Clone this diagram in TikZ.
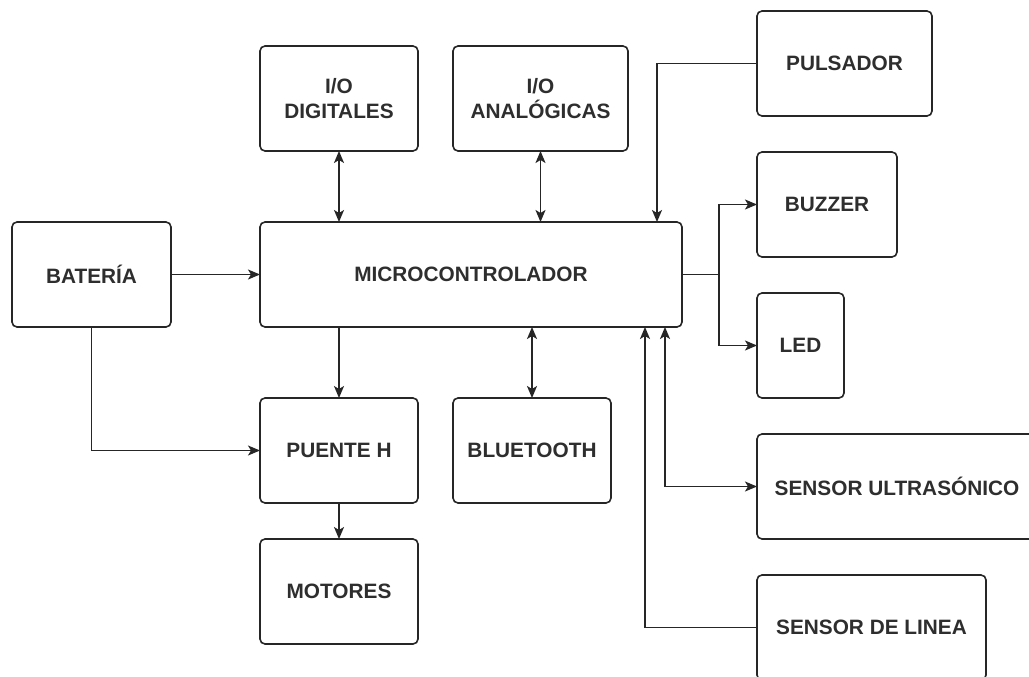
\documentclass[tikz,border=0pt]{standalone}
\usepackage{fontspec}
\setmainfont{Liberation Sans}
\usetikzlibrary{arrows.meta,positioning,calc}
\tikzset{
  blk/.style={draw=black!85, line width=1.6pt, rounded corners=5pt, inner sep=0pt, outer sep=0pt,
    align=center, font=\fontsize{20.8}{24.5}\selectfont\bfseries, text=black!82},
  arr/.style={draw=black!85, line width=1.6pt, -{Stealth[length=12pt,width=10pt,inset=3pt]}},
  barr/.style={draw=black!85, line width=1.6pt, {Stealth[length=12pt,width=10pt,inset=3pt]}-{Stealth[length=12pt,width=10pt,inset=3pt]}},
  ln/.style={draw=black!85, line width=1.6pt}
}
\begin{document}
\begin{tikzpicture}[x=1pt,y=-1pt]
\useasboundingbox (0,0) rectangle (1029,677);
\clip (0,0) rectangle (1029,677);
\fill[white] (0,0) rectangle (1029,677);
% boxes
\node[blk, minimum width=158pt, minimum height=105pt] (dig) at (339,98.5) {I/O\\DIGITALES};
\node[blk, minimum width=175pt, minimum height=105pt] (ana) at (540.5,98.5) {I/O\\ANALÓGICAS};
\node[blk, minimum width=175pt, minimum height=105pt] (pul) at (844.5,63.5) {PULSADOR};
\node[blk, minimum width=140pt, minimum height=105pt] (buz) at (827,204.5) {BUZZER};
\node[blk, minimum width=87pt, minimum height=105pt] (led) at (800.5,345.5) {LED};
\node[blk, minimum width=159pt, minimum height=105pt] (bat) at (91.5,274.5) {BATERÍA};
\node[blk, minimum width=422pt, minimum height=105pt] (mc) at (471,274.5) {MICROCONTROLADOR};
\node[blk, minimum width=158pt, minimum height=105pt] (ph) at (339,450.5) {PUENTE H};
\node[blk, minimum width=158pt, minimum height=105pt] (bt) at (532,450.5) {BLUETOOTH};
\node[blk, minimum width=158pt, minimum height=105pt] (mot) at (339,591.5) {MOTORES};
\node[blk, minimum width=280pt, minimum height=105pt] (ult) at (897,486.5) {SENSOR ULTRASÓNICO};
\node[blk, minimum width=229pt, minimum height=105pt] (lin) at (871.5,627.5) {SENSOR DE LINEA};
% connectors
\draw[barr] (dig.south) -- (dig.south|-mc.north);
\draw[barr] (ana.south) -- (ana.south|-mc.north);
\draw[arr] (pul.west) -| ([xshift=186pt]mc.north);
\draw[ln] (mc.east) -- ++(37,0) coordinate (j);
\draw[arr] (j) |- (buz.west);
\draw[arr] (j) |- (led.west);
\draw[arr] (bat.east) -- (mc.west);
\draw[arr] (bat.south) |- (ph.west);
\draw[arr] (mc.south-|ph.north) -- (ph.north);
\draw[barr] (bt.north|-mc.south) -- (bt.north);
\draw[arr] (ph.south) -- (mot.north);
\draw[barr] ([xshift=194pt]mc.south) |- (ult.west);
\draw[arr] (lin.west) -| ([xshift=174pt]mc.south);
\end{tikzpicture}
\end{document}
